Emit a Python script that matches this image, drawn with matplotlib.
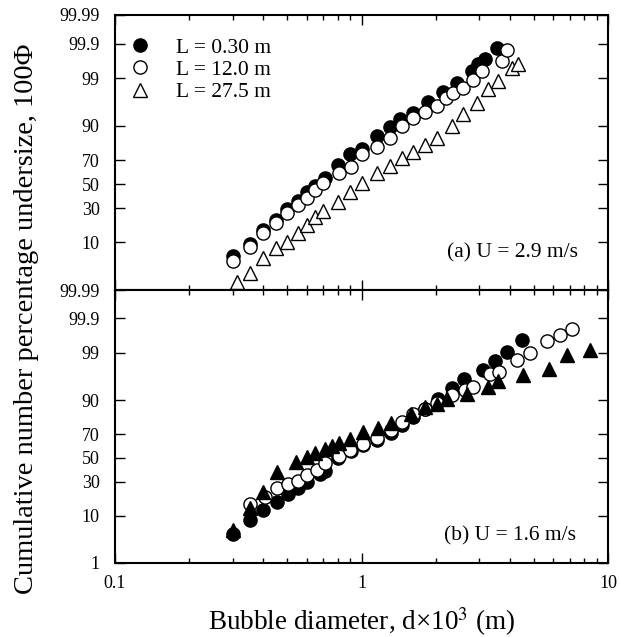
#import the libraries

import numpy as np
import matplotlib
matplotlib.use('Agg')
import matplotlib.pyplot as plt
from matplotlib.ticker import NullLocator, NullFormatter, LogLocator
from statistics import NormalDist

#data: bubble diameter d x 10^3 (m) and cumulative percent undersize

# (a) U = 2.9 m/s
d_a1 = [0.30, 0.353, 0.40, 0.45, 0.50, 0.55, 0.60, 0.65, 0.71, 0.80, 0.90, 1.0, 1.16,
        1.30, 1.43, 1.62, 1.86, 2.14, 2.44, 2.81, 2.98, 3.17, 3.55]
p_a1 = [5.6, 9.6, 15.9, 21.7, 29.4, 35.6, 43.1, 48.3, 55.2, 66.0, 74.3, 78.3, 85.7,
        89.6, 92.4, 94.1, 96.4, 97.9, 98.67, 99.34, 99.6, 99.71, 99.86]

d_a2 = [0.30, 0.353, 0.40, 0.45, 0.50, 0.55, 0.60, 0.65, 0.70, 0.81, 0.91, 1.0, 1.16,
        1.30, 1.46, 1.62, 1.81, 2.02, 2.20, 2.35, 2.58, 2.83, 3.08, 3.72, 3.89]
p_a2 = [4.5, 8.5, 14.3, 19.8, 26.4, 32.4, 38.0, 44.8, 50.9, 59.4, 64.4, 74.3, 79.6,
        84.7, 90.0, 92.7, 94.4, 95.7, 97.1, 97.7, 98.3, 98.9, 99.34, 99.65, 99.84]

d_a3 = [0.313, 0.353, 0.40, 0.45, 0.50, 0.55, 0.60, 0.65, 0.70, 0.80, 0.90, 1.0, 1.16,
        1.30, 1.46, 1.62, 1.81, 2.02, 2.33, 2.58, 2.94, 3.26, 3.58, 4.08, 4.31]
p_a3 = [1.57, 2.52, 5.2, 8.2, 10.0, 14.3, 18.6, 23.7, 27.9, 34.8, 43.1, 50.9, 59.4,
        65.2, 72.1, 75.7, 80.8, 84.7, 90.0, 93.9, 96.3, 98.2, 98.8, 99.45, 99.6]

# (b) U = 1.6 m/s
d_b1 = [0.30, 0.353, 0.40, 0.454, 0.503, 0.552, 0.60, 0.68, 0.71, 0.80, 0.91, 1.01, 1.16,
        1.32, 1.46, 1.62, 1.81, 2.04, 2.33, 2.60, 3.11, 3.48, 3.89, 4.48]
p_b1 = [4.56, 8.4, 12.3, 16.7, 21.5, 25.5, 29.9, 36.3, 38.8, 50.0, 56.1, 61.0, 65.3,
        70.8, 76.6, 81.6, 86.0, 90.6, 94.0, 96.0, 97.4, 98.4, 99.04, 99.55]

d_b2 = [0.353, 0.407, 0.454, 0.503, 0.552, 0.60, 0.66, 0.71, 0.81, 0.90, 1.01, 1.16,
        1.32, 1.46, 1.62, 1.81, 2.02, 2.33, 2.63, 2.83, 3.32, 3.61, 4.27, 4.83, 5.65,
        6.38, 7.14]
p_b2 = [15.6, 19.6, 25.5, 28.4, 30.7, 35.5, 39.6, 45.6, 51.8, 56.9, 62.1, 67.0,
        73.0, 78.4, 83.3, 86.0, 88.9, 92.0, 93.5, 94.3, 96.9, 97.2, 98.5, 99.0, 99.52,
        99.67, 99.78]

d_b3 = [0.30, 0.353, 0.40, 0.454, 0.542, 0.60, 0.65, 0.71, 0.76, 0.81, 0.90, 1.01,
        1.17, 1.32, 1.59, 1.81, 2.02, 2.22, 2.68, 3.26, 3.58, 4.52, 5.76, 6.81, 8.44]
p_b3 = [5.5, 13.2, 22.8, 37.9, 46.5, 50.9, 54.4, 57.8, 60.4, 62.9, 66.2, 71.6,
        74.5, 77.9, 83.3, 86.9, 88.6, 90.6, 92.3, 94.2, 95.5, 96.7, 97.6, 98.85, 99.18]

labels = ['L = 0.30 m', 'L = 12.0 m', 'L = 27.5 m']
yticks = [1, 10, 30, 50, 70, 90, 99, 99.9, 99.99]
ytick_labels = ['1', '10', '30', '50', '70', '90', '99', '99.9', '99.99']

#probability (normal) scale for the y axis

nd = NormalDist()
_ppf = np.vectorize(nd.inv_cdf, otypes=[float])
_cdf = np.vectorize(nd.cdf, otypes=[float])

def forward(p):
    p = np.clip(np.asarray(p, dtype=float) / 100.0, 1e-7, 1 - 1e-7)
    return _ppf(p)

def inverse(z):
    return _cdf(np.asarray(z, dtype=float)) * 100.0

plt.rcParams['font.family'] = ['Liberation Serif', 'DejaVu Serif']
plt.rcParams['mathtext.fontset'] = 'stix'

fig = plt.figure(figsize=(6.2, 6.37), dpi=100)
ax1 = fig.add_axes([0.1855, 0.5447, 0.7952, 0.4318])
ax2 = fig.add_axes([0.1855, 0.1162, 0.7952, 0.4285])

ms = 9.5
for ax in (ax1, ax2):
    ax.set_xscale('log')
    ax.set_yscale('function', functions=(forward, inverse))
    ax.set_xlim(0.1, 10)
    ax.set_ylim(1, 99.99)
    ax.xaxis.set_minor_locator(LogLocator(base=10, subs=np.arange(2, 10)))
    ax.xaxis.set_minor_formatter(NullFormatter())
    ax.yaxis.set_minor_locator(NullLocator())
    ax.tick_params(which='both', direction='in', top=True, right=True, width=1.0,
                   labelsize=13)
    ax.tick_params(which='major', length=7)
    ax.tick_params(which='minor', length=3.5)
    ax.tick_params(axis='y', pad=11)
    ax.tick_params(axis='x', pad=9)
    for s in ax.spines.values():
        s.set_linewidth(1.5)

ax1.set_yticks(yticks[1:], ytick_labels[1:])
ax2.set_yticks(yticks, ytick_labels)
ax1.set_xticks([0.1, 1, 10], ['', '', ''])
ax2.set_xticks([0.1, 1, 10], ['0.1', '1', '10'])

# top panel
ax1.plot(d_a1, p_a1, 'o', ms=ms, mfc='black', mec='black', mew=1, label=labels[0])
ax1.plot(d_a2, p_a2, 'o', ms=ms, mfc='white', mec='black', mew=1, label=labels[1])
ax1.plot(d_a3, p_a3, '^', ms=ms, mfc='white', mec='black', mew=1, label=labels[2])
ax1.text(0.94, 0.135, '(a) U = 2.9 m/s', transform=ax1.transAxes, ha='right',
         va='center', fontsize=15.5)
ax1.legend(loc='upper left', bbox_to_anchor=(-0.012, 1.0), frameon=False,
           fontsize=15.5, handlelength=0.75, handletextpad=1.3, labelspacing=0.1,
           borderaxespad=0.45, borderpad=0.6)

# bottom panel
ax2.plot(d_b1, p_b1, 'o', ms=ms, mfc='black', mec='black', mew=1)
ax2.plot(d_b2, p_b2, 'o', ms=ms, mfc='white', mec='black', mew=1)
ax2.plot(d_b3, p_b3, '^', ms=ms, mfc='black', mec='black', mew=1)
ax2.text(0.935, 0.1, '(b) U = 1.6 m/s', transform=ax2.transAxes, ha='right',
         va='center', fontsize=15.5)

fig.text(0.584, 0.024, r'Bubble diameter, d×10$^{3}$ (m)', ha='center', va='center',
         fontsize=19.5)
fig.text(0.042, 0.5, 'Cumulative number percentage undersize, 100Φ', rotation=90,
         ha='center', va='center', fontsize=20.5)

plt.savefig('out.png', dpi=100)
